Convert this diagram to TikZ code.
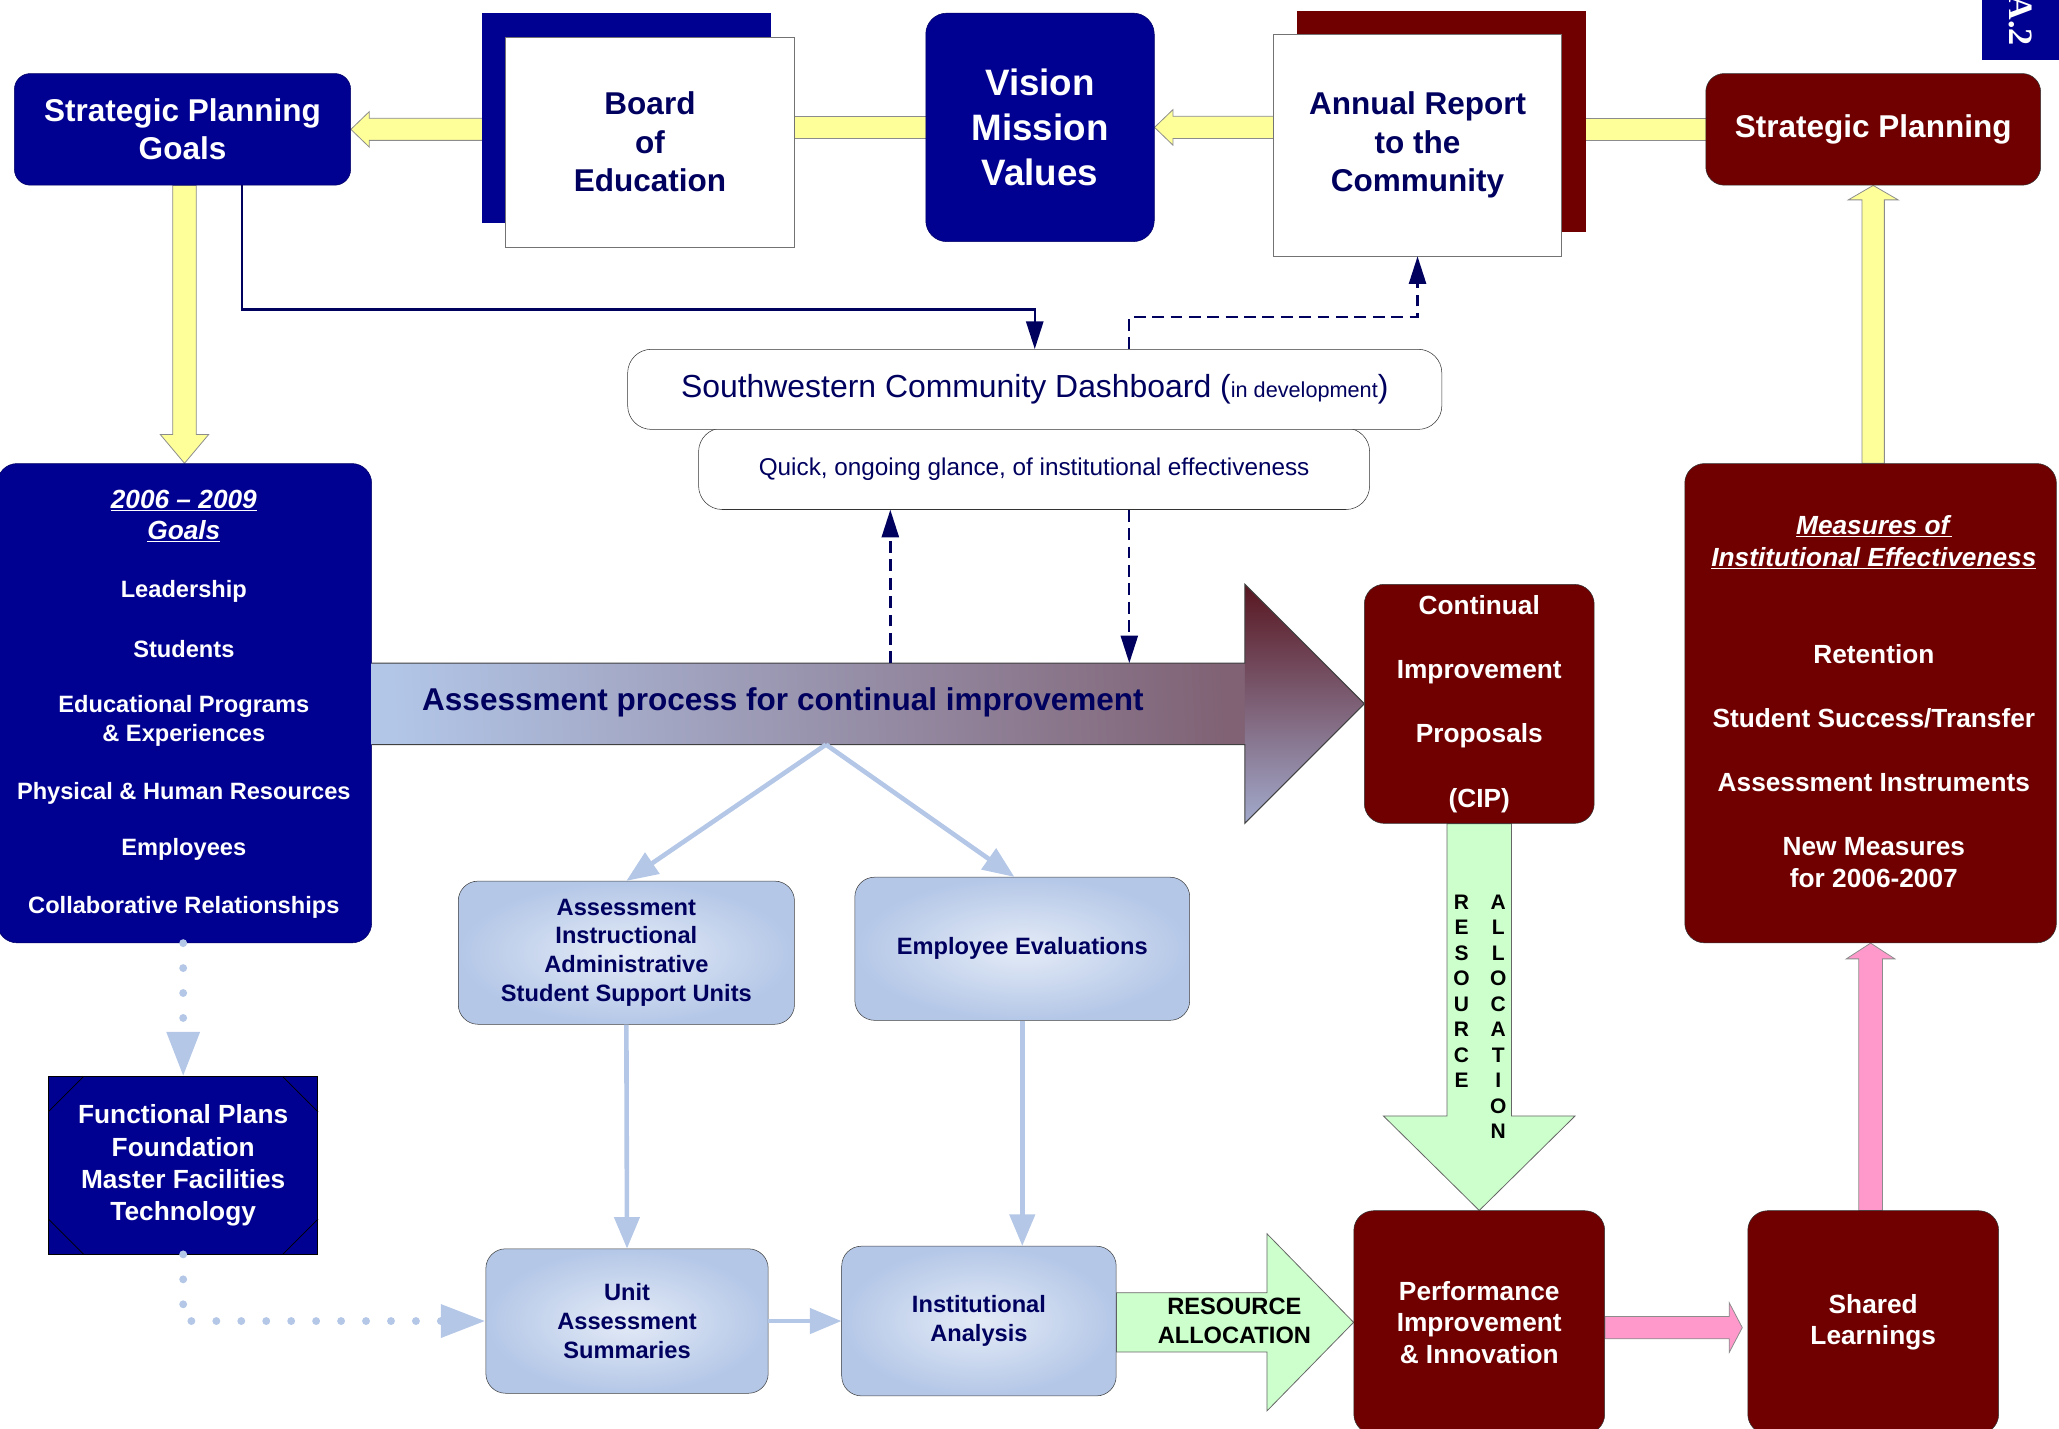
\documentclass[tikz,border=0pt]{standalone}
\usepackage{fontspec}
\setmainfont{Liberation Sans}
\newfontfamily\tabfont{Liberation Serif}
\usetikzlibrary{arrows.meta,calc,shapes}
\RequirePackage{xcolor}
\definecolor{boxnavy}{RGB}{0,0,145}
\definecolor{boxmaroon}{RGB}{112,0,0}
\definecolor{inknavy}{RGB}{0,0,95}
\definecolor{bandyellow}{RGB}{255,255,153}
\definecolor{paleblue}{RGB}{180,199,231}
\definecolor{glowblue}{RGB}{228,235,247}
\definecolor{mint}{RGB}{204,255,204}
\definecolor{pinkband}{RGB}{255,153,204}
\definecolor{procblue}{RGB}{178,198,232}
\definecolor{procmid}{RGB}{128,98,116}
\definecolor{procpale}{RGB}{162,170,204}
\definecolor{procdark}{RGB}{88,22,32}

\pgfdeclarelayer{bg}
\pgfsetlayers{bg,main}

% block arrows: style, tail, tip, half band, half head, head base offset
\newcommand{\hblock}[6]{%
  \filldraw[#1] let \p1=(#2), \p2=(#3) in
    (\p2) -- ({\x2+(#6)},{\y2+#5}) -- ({\x2+(#6)},{\y2+#4}) -- ({\x1},{\y2+#4})
    -- ({\x1},{\y2-#4}) -- ({\x2+(#6)},{\y2-#4}) -- ({\x2+(#6)},{\y2-#5}) -- cycle;}
\newcommand{\vblock}[6]{%
  \filldraw[#1] let \p1=(#2), \p2=(#3) in
    (\p2) -- ({\x2+#5},{\y2+(#6)}) -- ({\x2+#4},{\y2+(#6)}) -- ({\x2+#4},{\y1})
    -- ({\x2-#4},{\y1}) -- ({\x2-#4},{\y2+(#6)}) -- ({\x2-#5},{\y2+(#6)}) -- cycle;}

\begin{document}
\begin{tikzpicture}[x=1pt, y=-1pt,
  navybox/.style={draw=boxnavy!70!black, fill=boxnavy, rounded corners=12pt, text=white, align=center, inner sep=0pt},
  maroonbox/.style={draw=black!80, fill=boxmaroon, rounded corners=14pt, text=white, align=center, inner sep=0pt},
  paperbox/.style={draw=black!55, fill=white, align=center, text=inknavy, inner sep=0pt},
  shadowbox/.style={fill=#1, inner sep=0pt},
  glowbox/.style={draw=black!75, inner color=glowblue, outer color=paleblue, rounded corners=15pt, align=center, text=inknavy, inner sep=0pt, smalltxt},
  dashbox/.style={draw=black!80, fill=white, rounded corners=18pt, text=inknavy, inner sep=0pt},
  bigtxt/.style={font=\fontsize{24}{29.5}\selectfont\bfseries},
  midtxt/.style={font=\fontsize{20}{24}\selectfont\bfseries},
  smalltxt/.style={font=\fontsize{18}{22}\selectfont\bfseries},
  vletter/.style={font=\fontsize{16}{16}\selectfont\bfseries, inner sep=0pt},
  yband/.style={fill=bandyellow, draw=black!45, line width=0.6pt},
  gband/.style={fill=mint, draw=black!60, line width=0.6pt},
  pband/.style={fill=pinkband, draw=black!45, line width=0.6pt},
  navylink/.style={draw=inknavy, line width=1.8pt, -{Triangle[length=21pt,width=13pt]}},
  dashlink/.style={navylink, dash pattern=on 9pt off 5pt},
  bluelink/.style={draw=paleblue, line width=3.5pt, -{Triangle[length=24pt,width=19pt]}},
  dotlink/.style={draw=paleblue, line width=6pt, line cap=round, dash pattern=on 0pt off 19pt, -{Triangle[length=34pt,width=24pt]}}]
  \useasboundingbox (0,0) rectangle (1568,1088);

  % top row
  \node[shadowbox=boxnavy, minimum width=220, minimum height=160] (boardbk) at (477,90) {};
  \node[paperbox, bigtxt, minimum width=220, minimum height=160] (board) at (495,108) {Board\\of\\Education};
  \node[navybox, font=\fontsize{28}{34}\selectfont\bfseries, rounded corners=16pt, minimum width=174, minimum height=174] (vision) at (792,97) {Vision\\Mission\\Values};
  \node[shadowbox=boxmaroon, minimum width=220, minimum height=169] (annualbk) at (1098,92.5) {};
  \node[paperbox, bigtxt, minimum width=219, minimum height=169] (annual) at (1079.5,110.5) {Annual Report\\to the\\Community};
  \node[navybox, bigtxt, minimum width=256, minimum height=85] (spg) at (139,98.5) {Strategic Planning\\Goals};
  \node[maroonbox, bigtxt, minimum width=255, minimum height=85] (sp) at (1426.5,98.5) {Strategic Planning};
  \node[fill=boxnavy, minimum width=59, minimum height=50, inner sep=0pt] (tab) at (1538.5,21) {};
  \node[rotate=-90, anchor=east, text=white, font=\tabfont\fontsize{26}{26}\selectfont\bfseries, inner sep=0pt] (tablabel) at (1539,35) {A.2};

  % dashboard
  \node[dashbox, minimum width=511, minimum height=62, font=\fontsize{18.5}{22}\selectfont] (glance) at (787.5,357) {Quick, ongoing glance, of institutional effectiveness};
  \node[dashbox, minimum width=620, minimum height=61, font=\fontsize{24.3}{28}\selectfont] (dash) at (788,296.5) {Southwestern Community Dashboard ({\fontsize{16.5}{20}\selectfont in development})};

  % goals and measures
  \node[navybox, rounded corners=15pt, minimum width=285, minimum height=365] (goals) at (140.5,535.5) {};
  \node[midtxt, text=white, align=center] (goalstitle) at (140,393) {\underline{\textit{2006 -- 2009}}\\\underline{\textit{Goals}}};
  \foreach \txt/\yy [count=\i] in {Leadership/450, Students/494, {Educational Programs\\\& Experiences}/549, Physical \& Human Resources/604, Employees/647, Collaborative Relationships/691}
    \node[smalltxt, text=white, align=center] (goal\i) at (140,\yy) {\txt};

  \node[maroonbox, rounded corners=15pt, minimum width=283, minimum height=365] (measures) at (1424.5,535.5) {};
  \node[midtxt, text=white, align=center] (mtitle) at (1427,413) {\underline{\textit{Measures of}}\\\underline{\textit{Institutional Effectiveness}}};
  \foreach \txt/\yy [count=\i] in {Retention/498, {Student Success/Transfer}/547, Assessment Instruments/596, {New Measures\\for 2006-2007}/657}
    \node[midtxt, text=white, align=center] (measure\i) at (1427,\yy) {\txt};

  \node[maroonbox, font=\fontsize{20}{49}\selectfont\bfseries, rounded corners=15pt, minimum width=175, minimum height=182] (cip) at (1126.5,536) {Continual\\Improvement\\Proposals\\(CIP)};

  % assessment process
  \shade[left color=procblue, right color=procmid, shading angle=93] (283,505) rectangle (948.5,567);
  \shade[top color=procdark, middle color=procmid, bottom color=procpale] (948,445) -- (1039,536) -- (948,627) -- cycle;
  \draw[black!75, line width=0.8pt] (283,505) -- (948,505) -- (948,445) -- (1039,536) -- (948,627) -- (948,567) -- (283,567);
  \node[anchor=west, text=inknavy, bigtxt] (proctext) at (318,535) {Assessment process for continual improvement};
  \coordinate (procup) at (678,505);
  \coordinate (procin) at (860,505);
  \coordinate (procout) at (629,567);

  \node[glowbox, minimum width=256, minimum height=109] (assess) at (477,725.5) {Assessment\\Instructional\\Administrative\\Student Support Units};
  \node[glowbox, minimum width=255, minimum height=109] (employee) at (778.5,722.5) {Employee Evaluations};
  \node[glowbox, minimum width=215, minimum height=110] (unit) at (477.5,1006) {Unit\\Assessment\\Summaries};
  \node[glowbox, minimum width=209, minimum height=114] (inst) at (745.5,1006) {Institutional\\Analysis};

  \node[fill=boxnavy, draw=black, line width=0.5pt, minimum width=205, minimum height=135, inner sep=0pt, text=white, align=center, font=\fontsize{20}{24.5}\selectfont\bfseries] (func) at (139.5,887.5) {Functional Plans\\Foundation\\Master Facilities\\Technology};
  \draw[line width=0.5pt] (func.north west) ++(0,27) -- ++(27,-27);
  \draw[line width=0.5pt] (func.north east) ++(0,27) -- ++(-27,-27);
  \draw[line width=0.5pt] (func.south west) ++(0,-27) -- ++(27,27);
  \draw[line width=0.5pt] (func.south east) ++(0,-27) -- ++(-27,27);

  \node[maroonbox, midtxt, rounded corners=15pt, minimum width=191, minimum height=170] (perf) at (1126.5,1007) {Performance\\Improvement\\\& Innovation};
  \node[maroonbox, midtxt, rounded corners=15pt, minimum width=191, minimum height=170] (shared) at (1426.5,1007) {Shared\\Learnings};

  \begin{pgfonlayer}{bg}
    \hblock{yband}{board.center}{spg.east}{8.4pt}{13.5pt}{14pt}
    \filldraw[yband] ($(board.center |- vision.center)+(0,-8.4)$) rectangle ($(vision.center)+(0,8.4)$);
    \hblock{yband}{annual.center}{vision.east}{8.4pt}{13.5pt}{14pt}
    \filldraw[yband] ($(annual.center |- sp.center)+(0,-8.4)$) rectangle ($(sp.center)+(0,8.4)$);
    \vblock{yband}{spg.south}{goals.north}{9pt}{18.5pt}{22pt}
    \vblock{yband}{measures.north}{sp.south}{8.5pt}{19pt}{-11pt}
    \vblock{gband}{cip.south}{perf.north}{24.5pt}{73pt}{72pt}
    \hblock{gband}{inst.east}{perf.west}{22.5pt}{67.5pt}{-66pt}
    \hblock{pband}{perf.east}{$(shared.west)+(-4,4)$}{8.5pt}{19pt}{-10pt}
    \vblock{pband}{shared.north}{measures.south}{9pt}{18.5pt}{-12pt}
  \end{pgfonlayer}

  \node[font=\fontsize{18}{22}\selectfont\bfseries, align=center] (ralloc) at (940,1006) {RESOURCE\\ALLOCATION};
  \foreach \ch [count=\i] in {R,E,S,O,U,R,C,E}
    \node[vletter] (res\i) at (1113,{687+19.4*(\i-1)}) {\ch};
  \foreach \ch [count=\i] in {A,L,L,O,C,A,T,I,O,N}
    \node[vletter] (alloc\i) at (1141,{687+19.4*(\i-1)}) {\ch};

  % links
  \draw[navylink] ($(spg.south east)+(-83,0)$) |- ($(dash.north)+(0,-30)$) -- (dash.north);
  \draw[dashlink] ($(dash.north)+(72,0)$) |- ($(annual.south)+(0,46)$) -- (annual.south);
  \draw[dashlink] (procup) -- (procup |- glance.south);
  \draw[dashlink] (procin |- glance.south) -- (procin);
  \draw[bluelink] (procout) -- (assess.north);
  \draw[bluelink] (procout) -- ($(employee.north)+(-6,0)$);
  \draw[bluelink] (assess.south) -- (unit.north);
  \draw[bluelink] (employee.south) -- (employee.south |- inst.north);
  \draw[bluelink] (unit.east) -- (inst.west);
  \draw[dotlink] (goals.south -| func.north) -- (func.north);
  \draw[dotlink] (func.south) |- (unit.west);
\end{tikzpicture}
\end{document}
